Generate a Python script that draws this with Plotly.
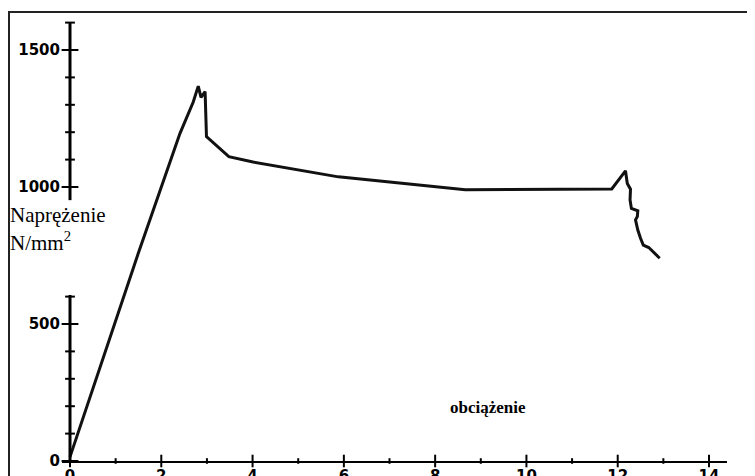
import plotly.graph_objects as go

# ---- data ----
strain = [0.0, 1.50, 2.41, 2.70, 2.81, 2.87, 2.96, 2.99, 3.48,
          4.01, 5.88, 8.66, 11.87, 12.17, 12.21, 12.28, 12.27, 12.30, 12.44,
          12.43, 12.39, 12.44, 12.50, 12.56, 12.68, 12.92]
stress = [15, 760, 1196, 1310, 1368, 1327, 1348, 1184, 1111,
          1091, 1037, 990, 993, 1059, 1013, 992, 953, 922, 913,
          892, 880, 843, 813, 788, 779, 740]

x_major = [0, 2, 4, 6, 8, 10, 12, 14]
x_minor = [1, 3, 5, 7, 9, 11, 13]
x_labels = ["0", "2", "4", "6", "8", "10", "12", "14"]
y_major = [0, 500, 1000, 1500]
y_labels = ["0", "500", "1000", "1500"]
y_minor = [100, 200, 300, 400, 600, 1100, 1200, 1300, 1400, 1600]
y_axis_segments = [(0, 606), (952, 1600)]

# the page body has an 8px margin: work in page pixels minus that offset
OFF = 8
W, H = 755 - OFF, 476 - OFF


def px(v):
    return v - OFF


X0PX, XUNIT = px(70.0), 45.643     # pixel of x=0, pixels per unit
Y0PX, YUNIT = px(461.0), 0.274     # pixel of y=0, pixels per unit
XL, XR = px(62), px(727)

fig = go.Figure()

fig.add_trace(go.Scatter(x=strain, y=stress, mode="lines",
                         line=dict(color="#111111", width=3),
                         hoverinfo="skip", showlegend=False))

# axis ticks (cross marks)
fig.add_trace(go.Scatter(x=x_major, y=[0] * len(x_major), mode="markers",
                         marker=dict(symbol="line-ns", size=9,
                                     line=dict(color="black", width=2)),
                         cliponaxis=False, showlegend=False, hoverinfo="skip"))
fig.add_trace(go.Scatter(x=x_minor, y=[0] * len(x_minor), mode="markers",
                         marker=dict(symbol="line-ns", size=4,
                                     line=dict(color="black", width=2)),
                         cliponaxis=False, showlegend=False, hoverinfo="skip"))
fig.add_trace(go.Scatter(x=[0] * len(y_major), y=y_major, mode="markers",
                         marker=dict(symbol="line-ew", size=12,
                                     line=dict(color="black", width=2)),
                         cliponaxis=False, showlegend=False, hoverinfo="skip"))
fig.add_trace(go.Scatter(x=[0] * len(y_minor), y=y_minor, mode="markers",
                         marker=dict(symbol="line-ew", size=7,
                                     line=dict(color="black", width=2)),
                         cliponaxis=False, showlegend=False, hoverinfo="skip"))

# broken y axis line
for a, b in y_axis_segments:
    fig.add_shape(type="line", xref="x", yref="y", x0=0, x1=0, y0=a, y1=b,
                  line=dict(color="black", width=3))

# frame (top and left)
fig.add_shape(type="line", xref="paper", yref="paper",
              x0=px(8) / W, x1=1, y0=1 - px(12) / H, y1=1 - px(12) / H,
              line=dict(color="#222222", width=2))
fig.add_shape(type="line", xref="paper", yref="paper",
              x0=(px(8) + 1) / W, x1=(px(8) + 1) / W, y0=0, y1=1 - px(12) / H,
              line=dict(color="#222222", width=2))

serif = "Liberation Serif, Times New Roman, serif"
fig.add_annotation(text="Naprężenie", xref="paper", yref="paper",
                   x=px(8) / W, y=1 - px(229) / H, xanchor="left", yanchor="bottom",
                   showarrow=False, font=dict(family=serif, size=21, color="black"))
fig.add_annotation(text="N/mm<sup>2</sup>", xref="paper", yref="paper",
                   x=px(8) / W, y=1 - px(257) / H, xanchor="left", yanchor="bottom",
                   showarrow=False, font=dict(family=serif, size=21, color="black"))
fig.add_annotation(text="<b>obciążenie</b>", xref="paper", yref="paper",
                   x=px(488) / W, y=1 - px(407) / H, xanchor="center", yanchor="middle",
                   showarrow=False, font=dict(family=serif, size=17, color="black"))

tickfont = dict(family="DejaVu Sans", size=15, color="black", weight="bold")

fig.update_layout(
    width=W, height=H,
    margin=dict(l=0, r=0, t=0, b=0, autoexpand=False),
    paper_bgcolor="white", plot_bgcolor="white",
    xaxis=dict(domain=[XL / W, XR / W],
               range=[(XL - X0PX) / XUNIT, (XR - X0PX) / XUNIT],
               automargin=False,
               showgrid=False, zeroline=False, showline=True,
               linecolor="black", linewidth=2,
               tickmode="array", tickvals=x_major, ticktext=x_labels,
               ticks="", tickfont=tickfont, ticklabelstandoff=0),
    yaxis=dict(domain=[(H - Y0PX) / H, 1],
               range=[0, Y0PX / YUNIT],
               anchor="free", position=X0PX / W,
               automargin=False,
               showgrid=False, zeroline=False, showline=False,
               tickmode="array", tickvals=y_major, ticktext=y_labels,
               ticks="", tickfont=tickfont, ticklabelstandoff=10),
)

fig.write_html("out.html")
